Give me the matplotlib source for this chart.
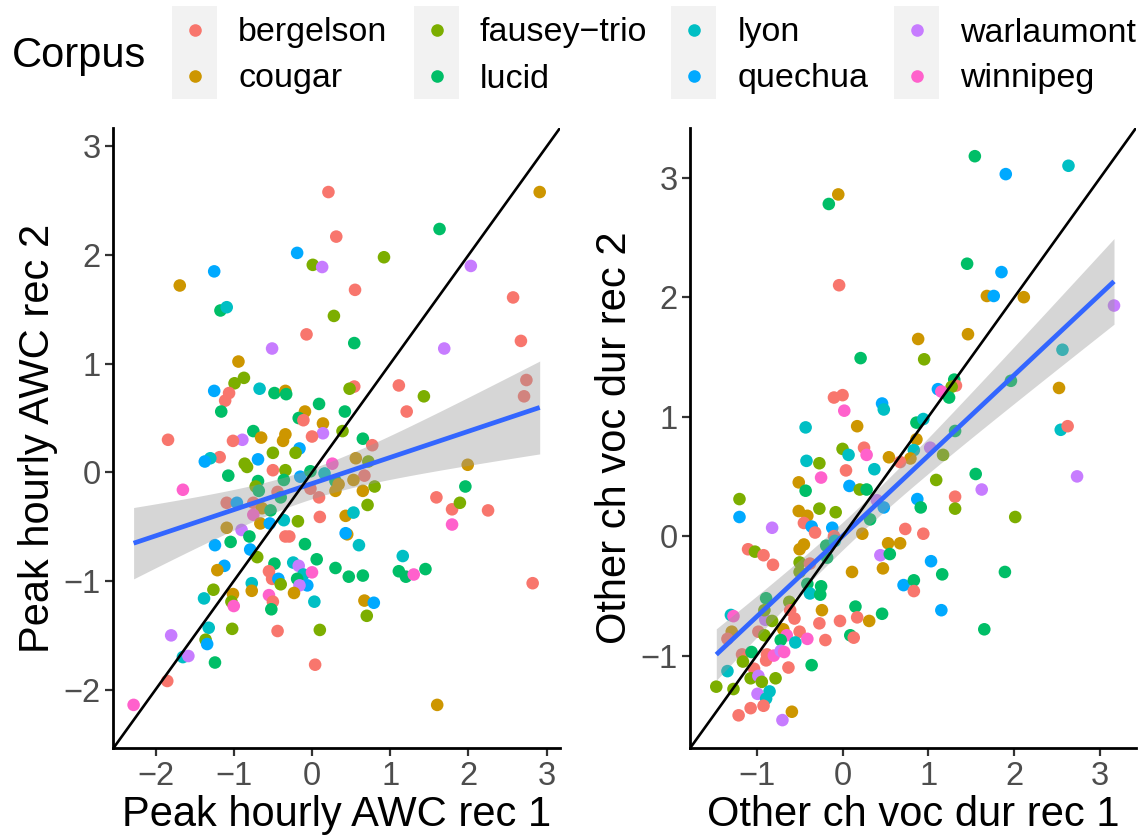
import numpy as np
import matplotlib
matplotlib.use("Agg")
import matplotlib.pyplot as plt
from matplotlib.patches import Rectangle

plt.rcParams["font.family"] = ["Liberation Sans", "DejaVu Sans"]

# Corpus names / colours (ggplot hue palette, 8 levels)
corpus_names = ["bergelson", "cougar", "fausey\u2212trio", "lucid",
                "lyon", "quechua", "warlaumont", "winnipeg"]
corpus_codes = ["be", "co", "fa", "lu", "ly", "qu", "wa", "wi"]
corpus_colors = ["#F8766D", "#CD9600", "#7CAE00", "#00BE67",
                 "#00BFC4", "#00A9FF", "#C77CFF", "#FF61CC"]

# Panel 1: peak hourly AWC (rec 1, rec 2, corpus)
awc_rec1 = [0.21, 2.91, 1.63, 0.31, -0.19, -1.25, -1.69, 0.01, 0.13, 0.92, 2.03, 0.55, 2.57,
            -1.17, -1.09, 0.28, -0.07, 0.54, -0.51, 1.69, 2.67, -0.94, 2.74, 2.71, -0.99, -0.87,
            -1.25, -1.06, -1.11, -1.16, -0.67, -0.48, -0.34, -0.33, 0.54, 0.48, 1.11, 1.43, 1.21,
            0.09, 0.42, -0.09, -0.17, -0.11, 0.14, 0.14, 0.39, -0.75, -0.34, -0.65, 0.00, 0.65,
            -1.84, -0.89, -1.01, -0.37, 0.77,
            -0.16, -0.21, -0.50, -1.18, -1.30, -1.37, -0.69, -0.86, -0.83, -0.50, -0.34, -1.07,
            -1.65, -0.69, -0.36, -0.15, -0.02, 0.16, 0.26, 0.30, 0.34, 0.30, 0.56, 0.72, 0.67,
            0.53, 0.65, 0.80, 0.71, 1.99, 1.96, 1.59, 1.79, 1.89, 2.25, 1.79, -0.72, -0.68,
            -0.44, -0.40, -0.02, 0.09, -1.09, -0.96, -0.75, -0.64, -0.53, -0.75, -1.09, -0.90,
            -0.66, -0.54, -0.36, -0.18, 0.10, -0.34, -0.29, 0.43, 0.53, 0.45, 0.43, 0.60, -0.09,
            0.06, 0.30, 0.47, 0.65, 1.16, 1.11, 1.20, 1.30, 1.45, 2.82, -1.24, -1.04, -0.80,
            -0.79, -0.70, -0.48, -0.24, -0.17, -0.11, -0.19, 0.00, -0.06, -0.16, -0.23, 0.03,
            -0.55, -0.51, -0.43, -0.40, -1.12, -1.21, -0.77, -0.77, -1.26, -1.01, -1.03, -1.00,
            -1.38, -0.55, -0.50, -0.52, 0.67, 0.79, 0.70, 0.10, -0.44, -1.02, -1.32, -1.36,
            -1.34, -1.80, -1.65, -1.58, -1.24, 0.04, -1.85, -2.28, 1.60]
awc_rec2 = [2.58, 2.58, 2.24, 2.17, 2.02, 1.85, 1.72, 1.91, 1.89, 1.98, 1.90, 1.68, 1.61,
            1.49, 1.52, 1.44, 1.27, 1.19, 1.14, 1.14, 1.21, 1.02, 0.85, 0.70, 0.82, 0.87,
            0.75, 0.73, 0.66, 0.56, 0.77, 0.73, 0.75, 0.72, 0.79, 0.77, 0.80, 0.70, 0.56,
            0.63, 0.56, 0.56, 0.50, 0.48, 0.45, 0.36, 0.38, 0.38, 0.35, 0.32, 0.33, 0.31,
            0.30, 0.30, 0.29, 0.29, 0.25,
            0.22, 0.18, 0.18, 0.14, 0.13, 0.10, 0.12, 0.08, 0.05, 0.02, 0.02, -0.03,
            -0.16, -0.08, -0.07, -0.04, 0.01, -0.01, 0.08, -0.08, -0.11, -0.17, 0.13, 0.10, -0.03,
            -0.07, -0.17, -0.13, -0.30, 0.07, -0.13, -0.23, -0.34, -0.28, -0.35, -0.48, -0.13, -0.17,
            -0.18, -0.23, -0.15, -0.23, -0.28, -0.28, -0.28, -0.33, -0.35, -0.39, -0.51, -0.53,
            -0.47, -0.47, -0.44, -0.45, -0.41, -0.59, -0.59, -0.40, -0.37, -0.57, -0.56, -0.67, -0.66,
            -0.80, -0.88, -0.96, -0.95, -0.77, -0.91, -0.96, -0.94, -0.89, -1.02, -0.67, -0.64, -0.59,
            -0.71, -0.78, -0.84, -0.83, -0.86, -0.94, -0.98, -0.92, -1.04, -1.04, -1.11, -1.19,
            -0.91, -0.98, -0.98, -1.03, -0.86, -0.90, -1.02, -1.09, -1.08, -1.12, -1.19, -1.23,
            -1.16, -1.13, -1.19, -1.26, -1.18, -1.20, -1.32, -1.45, -1.46, -1.44, -1.43, -1.54,
            -1.58, -1.50, -1.70, -1.69, -1.75, -1.77, -1.92, -2.14, -2.14]
awc_corpus = ["be", "co", "lu", "be", "qu", "qu", "co", "fa", "wa", "fa", "wa", "be", "be",
              "lu", "ly", "fa", "be", "lu", "wa", "wa", "be", "co", "be", "be", "fa", "fa",
              "qu", "be", "be", "lu", "ly", "lu", "co", "lu", "be", "fa", "be", "fa", "be",
              "lu", "lu", "co", "lu", "be", "co", "wa", "fa", "lu", "co", "co", "be", "lu",
              "be", "wa", "be", "co", "be",
              "qu", "fa", "fa", "be", "ly", "qu", "qu", "fa", "fa", "be", "fa", "lu",
              "wi", "lu", "lu", "qu", "lu", "ly", "wi", "lu", "co", "co", "co", "fa", "be",
              "co", "co", "fa", "fa", "co", "lu", "be", "be", "fa", "be", "wi", "fa", "lu",
              "be", "lu", "be", "be", "be", "qu", "be", "co", "lu", "wi", "co", "wa",
              "co", "qu", "ly", "fa", "be", "be", "be", "co", "ly", "co", "qu", "ly", "lu",
              "lu", "lu", "lu", "lu", "ly", "lu", "lu", "wi", "lu", "be", "qu", "lu", "lu",
              "qu", "fa", "lu", "ly", "wa", "ly", "lu", "wi", "qu", "wa", "co", "ly",
              "be", "be", "qu", "fa", "qu", "co", "ly", "co", "fa", "co", "fa", "wi",
              "ly", "wi", "be", "lu", "co", "qu", "fa", "fa", "be", "fa", "ly", "fa",
              "qu", "wa", "ly", "wa", "lu", "be", "be", "wi", "co"]

# Panel 2: other child vocalisation duration (rec 1, rec 2, corpus)
ocv_rec1 = [1.54, 2.63, 1.90, -0.05, -0.16, 1.45, 1.85, -0.04, 1.68, 1.76, 2.11, 3.16, 1.46,
            0.88, 2.56, 0.21, 0.95, 1.30, 1.96, 1.32, 1.27, 1.11, 1.15, 1.24, 2.52, -0.10,
            0.00, 0.02, 0.46, 0.48, -0.43, 0.17, 0.86, 0.94, 2.54, 2.62, 1.31, 0.86, 0.00,
            0.07, 0.25, 0.28, 0.54, 0.83, 0.79, 0.67, 1.02, 1.17, -0.42, -0.27, 0.37, 0.04,
            -0.25, -0.51, -0.43, 0.08, 0.20, 0.28, 1.09, 1.55, 1.62, 2.73, 1.31, 1.31, 0.87,
            0.91, 0.40, 0.48, 0.32, 2.01, -1.20, -1.20, -0.82, -0.51, -0.41, -0.27, -0.08,
            -0.45, -0.36, -0.32, -0.12, -0.10, 0.23, 0.73, 0.94, 0.53, 0.67, 0.44, 0.55,
            1.03, 1.16, 1.89, -1.10, -1.02, -0.92, -0.81, -0.50, -0.45, -0.19, -0.09, -0.50,
            -0.38, -0.50, -0.18, 0.11, 0.47, -0.41, -0.38, -0.25, -0.26, 0.71, 0.83, 0.83,
            1.15, 1.65, -0.89, -0.62, -0.61, -0.24, 0.15, -0.56, -0.27, -0.03, 0.17, 0.31,
            0.46, 0.09, 0.13, -0.20, -1.30, -1.27, -0.90, -0.82, -0.91, -1.29, -1.34, -0.98,
            -0.91, -0.69, -0.50, -0.65, -0.41, -0.55, -0.72, -1.17, -1.06, -1.16, -0.88,
            -0.89, -0.80, -0.72, -0.68, -0.63, -0.36, -1.03, -1.34, -1.47, -1.27, -1.07,
            -0.78, -0.98, -0.94, -0.85, -0.99, -0.89, -1.21, -1.07, -0.92, -0.59, -0.70]
ocv_rec2 = [3.18, 3.10, 3.03, 2.86, 2.78, 2.28, 2.21, 2.10, 2.01, 2.01, 2.00, 1.93, 1.69,
            1.65, 1.56, 1.49, 1.48, 1.31, 1.30, 1.26, 1.25, 1.23, 1.21, 1.16, 1.24, 1.16,
            1.18, 1.05, 1.11, 1.06, 0.91, 0.92, 0.95, 0.98, 0.89, 0.92, 0.88, 0.81, 0.73,
            0.68, 0.74, 0.68, 0.66, 0.72, 0.65, 0.62, 0.74, 0.68, 0.63, 0.61, 0.56, 0.55,
            0.49, 0.45, 0.38, 0.42, 0.39, 0.39, 0.47, 0.52, 0.39, 0.50, 0.33, 0.23, 0.31,
            0.24, 0.30, 0.24, 0.14, 0.16, 0.31, 0.16, 0.07, 0.21, 0.17, 0.23, 0.20,
            0.11, 0.08, 0.03, 0.07, 0.00, 0.02, 0.06, 0.02, -0.06, -0.06, -0.16, -0.15,
            -0.21, -0.32, -0.30, -0.11, -0.13, -0.16, -0.24, -0.11, -0.07, -0.08, -0.04, -0.22,
            -0.23, -0.30, -0.18, -0.30, -0.27, -0.40, -0.48, -0.42, -0.49, -0.41, -0.37, -0.46,
            -0.62, -0.78, -0.52, -0.55, -0.62, -0.62, -0.59, -0.69, -0.73, -0.71, -0.68, -0.71,
            -0.65, -0.83, -0.85, -0.87, -0.66, -0.67, -0.70, -0.71, -0.62, -0.80, -0.86, -0.80,
            -0.83, -0.78, -0.80, -0.83, -0.86, -0.89, -0.87, -0.99, -0.97, -1.05, -0.99,
            -1.04, -1.00, -0.96, -0.97, -1.10, -1.08, -1.11, -1.13, -1.26, -1.28, -1.19,
            -1.19, -1.17, -1.22, -1.30, -1.32, -1.36, -1.50, -1.44, -1.42, -1.47, -1.54]
ocv_corpus = ["lu", "ly", "qu", "co", "lu", "lu", "qu", "be", "co", "qu", "co", "wa", "co",
              "co", "ly", "lu", "fa", "lu", "lu", "be", "fa", "qu", "wi", "lu", "co", "be",
              "be", "wi", "qu", "ly", "ly", "co", "lu", "ly", "ly", "be", "lu", "co", "fa",
              "ly", "be", "wi", "co", "ly", "co", "be", "wa", "fa", "ly", "fa", "ly", "be",
              "wi", "co", "lu", "qu", "fa", "lu", "fa", "lu", "wa", "wa", "be", "fa", "qu",
              "lu", "wa", "qu", "lu", "fa", "fa", "qu", "wa", "co", "co", "fa", "fa",
              "be", "qu", "be", "qu", "be", "co", "be", "be", "co", "co", "wa", "lu",
              "qu", "lu", "lu", "be", "fa", "be", "be", "co", "co", "lu", "ly", "fa",
              "be", "fa", "lu", "co", "co", "lu", "ly", "lu", "lu", "qu", "lu", "be",
              "qu", "lu", "lu", "fa", "be", "co", "lu", "be", "be", "be", "be", "co",
              "lu", "lu", "be", "be", "ly", "wi", "wa", "fa", "fa", "co", "be", "be",
              "fa", "co", "be", "wi", "wi", "ly", "lu", "be", "lu", "fa", "be",
              "be", "wi", "wa", "wi", "be", "lu", "be", "ly", "fa", "fa", "fa",
              "fa", "wa", "fa", "ly", "wa", "ly", "be", "be", "be", "co", "wa"]

panels = [
    (awc_rec1, awc_rec2, awc_corpus, "Peak hourly AWC rec 1", "Peak hourly AWC rec 2", [-2, -1, 0, 1, 2, 3]),
    (ocv_rec1, ocv_rec2, ocv_corpus, "Other ch voc dur rec 1", "Other ch voc dur rec 2", [-1, 0, 1, 2, 3]),
]

W, H = 1144, 838
fig = plt.figure(figsize=(W / 100, H / 100), dpi=100)
color_of = dict(zip(corpus_codes, corpus_colors))
T975 = 1.973
PT_SIZE = 82

# pixel boxes of the two panels (left, top, right, bottom)
boxes = [(113.3, 128, 560, 748.3), (690, 128, 1136, 748.3)]

for (xs, ys, cs, xlab, ylab, ticks), (l, t, r, b) in zip(panels, boxes):
    ax = fig.add_axes([l / W, 1 - b / H, (r - l) / W, (b - t) / H])
    x = np.array(xs)
    y = np.array(ys)
    ax.scatter(x, y, c=[color_of[k] for k in cs], s=PT_SIZE, linewidths=0, zorder=2)

    # linear fit + 95% CI (geom_smooth(method="lm"))
    n = len(x)
    slope, icpt = np.polyfit(x, y, 1)
    resid = y - (icpt + slope * x)
    s = np.sqrt(np.sum(resid ** 2) / (n - 2))
    xg = np.linspace(x.min(), x.max(), 100)
    yg = icpt + slope * xg
    se = s * np.sqrt(1 / n + (xg - x.mean()) ** 2 / np.sum((x - x.mean()) ** 2))
    ax.fill_between(xg, yg - T975 * se, yg + T975 * se, color="#999999", alpha=0.4,
                    linewidth=0, zorder=3)
    ax.plot(xg, yg, color="#3366FF", lw=3.4, zorder=4, solid_capstyle="butt")

    # same limits on both axes, 5% expansion of the joint range
    lo = min(x.min(), y.min())
    hi = max(x.max(), y.max())
    pad = 0.05 * (hi - lo)
    ax.set_xlim(lo - pad, hi + pad)
    ax.set_ylim(lo - pad, hi + pad)
    ax.axline((0, 0), slope=1, color="black", lw=1.9, zorder=5)

    ax.set_xticks(ticks)
    ax.set_yticks(ticks)
    ax.set_xticklabels([str(v).replace("-", "\u2212") for v in ticks])
    ax.set_yticklabels([str(v).replace("-", "\u2212") for v in ticks])
    ax.tick_params(colors="#333333", labelcolor="#4D4D4D", labelsize=23.5,
                   length=5.5, width=1.6, pad=3.5)
    for sp in ["top", "right"]:
        ax.spines[sp].set_visible(False)
    for sp in ["left", "bottom"]:
        ax.spines[sp].set_linewidth(2.0)
        ax.spines[sp].set_color("black")
    ax.set_xlabel(xlab, fontsize=30, labelpad=2)
    ax.set_ylabel(ylab, fontsize=30, labelpad=4)

# Legend drawn in pixel coordinates on top strip
lg = fig.add_axes([0, 0, 1, 1], zorder=-1)
lg.set_xlim(0, W)
lg.set_ylim(H, 0)
lg.axis("off")
lg.text(12, 56, "Corpus", fontsize=30, va="center", ha="left")
key_x = [172, 414, 671, 894]
label_x = [238, 480, 738, 960]
row_y = [30, 76]
for i, (name, col) in enumerate(zip(corpus_names, corpus_colors)):
    c, rr = i // 2, i % 2
    if rr == 0:
        lg.add_patch(Rectangle((key_x[c], 6), 45, 93, color="#F2F2F2", lw=0))
    lg.scatter([key_x[c] + 22.5], [row_y[rr]], s=PT_SIZE, color=col, linewidths=0)
    lg.text(label_x[c], row_y[rr] + 3, name, fontsize=24.5, va="center", ha="left")

fig.savefig("out.png", dpi=100)
